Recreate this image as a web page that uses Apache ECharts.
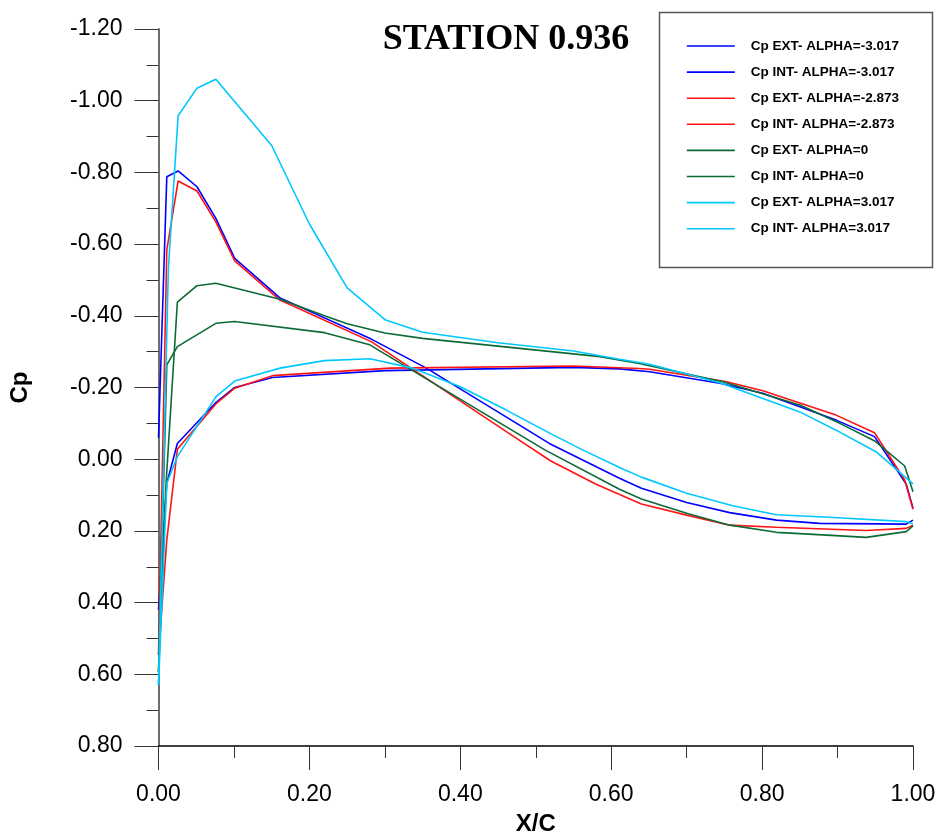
<!DOCTYPE html>
<html>
<head>
<meta charset="utf-8">
<title>STATION 0.936</title>
<script src="https://cdn.jsdelivr.net/npm/echarts@6/dist/echarts.min.js"></script>
<style>
  html, body { margin: 0; padding: 0; background: #ffffff; }
  #chart { width: 940px; height: 837px; }
</style>
</head>
<body>
<div id="chart"></div>
<script>
// Pressure coefficient distributions along the chord, station 0.936
const seriesNames = [
  'Cp EXT- ALPHA=-3.017', 'Cp INT- ALPHA=-3.017',
  'Cp EXT- ALPHA=-2.873', 'Cp INT- ALPHA=-2.873',
  'Cp EXT- ALPHA=0', 'Cp INT- ALPHA=0',
  'Cp EXT- ALPHA=3.017', 'Cp INT- ALPHA=3.017'
];
const seriesColors = ['#0000ff', '#0000ff', '#ff1414', '#ff1414', '#0b6a35', '#0b6a35', '#00c8ff', '#00c8ff'];

// ALPHA = -3.017
const xBlueExt  = [0, 0.011, 0.026, 0.051, 0.076, 0.101, 0.161, 0.282, 0.355, 0.518, 0.611, 0.64, 0.7, 0.757, 0.819, 0.876, 0.991, 1.0];
const cpBlueExt = [-0.06, -0.788, -0.804, -0.76, -0.672, -0.56, -0.45, -0.335, -0.254, -0.044, 0.053, 0.081, 0.121, 0.149, 0.17, 0.179, 0.181, 0.17];
const xBlueInt  = [0, 0.011, 0.025, 0.076, 0.101, 0.151, 0.3, 0.55, 0.611, 0.651, 0.744, 0.801, 0.898, 0.949, 0.991, 1.0];
const cpBlueInt = [0.42, 0.067, -0.044, -0.158, -0.2, -0.228, -0.247, -0.256, -0.252, -0.244, -0.212, -0.184, -0.109, -0.063, 0.069, 0.137];

// ALPHA = -2.873
const xRedExt  = [0, 0.011, 0.026, 0.051, 0.076, 0.101, 0.161, 0.282, 0.461, 0.52, 0.58, 0.64, 0.7, 0.757, 0.819, 0.938, 0.991, 1.0];
const cpRedExt = [0.546, -0.584, -0.776, -0.748, -0.662, -0.553, -0.444, -0.328, -0.077, 0.005, 0.07, 0.125, 0.156, 0.184, 0.19, 0.199, 0.193, 0.184];
const xRedInt  = [0, 0.011, 0.025, 0.076, 0.101, 0.151, 0.307, 0.549, 0.637, 0.651, 0.753, 0.801, 0.898, 0.949, 0.989, 1.0];
const cpRedInt = [0.546, 0.225, -0.028, -0.154, -0.198, -0.233, -0.254, -0.26, -0.253, -0.251, -0.216, -0.191, -0.123, -0.074, 0.058, 0.14];

// ALPHA = 0
const xGreenExt  = [0, 0.0095, 0.025, 0.051, 0.076, 0.161, 0.22, 0.25, 0.3, 0.35, 0.585, 0.637, 0.748, 0.85, 0.903, 0.95, 0.989, 1.0];
const cpGreenExt = [0.594, 0.086, -0.438, -0.484, -0.491, -0.446, -0.4, -0.378, -0.352, -0.337, -0.286, -0.267, -0.216, -0.151, -0.1, -0.05, 0.019, 0.091];
const xGreenInt  = [0, 0.011, 0.025, 0.076, 0.101, 0.22, 0.28, 0.512, 0.611, 0.64, 0.7, 0.757, 0.819, 0.88, 0.938, 0.991, 1.0];
const cpGreenInt = [0.594, -0.263, -0.314, -0.379, -0.384, -0.353, -0.319, -0.026, 0.084, 0.111, 0.151, 0.184, 0.204, 0.211, 0.218, 0.202, 0.186];

// ALPHA = 3.017
const xCyanExt  = [0, 0.013, 0.026, 0.051, 0.076, 0.15, 0.2, 0.25, 0.301, 0.35, 0.45, 0.55, 0.611, 0.651, 0.744, 0.85, 0.898, 0.951, 1.0];
const cpCyanExt = [0.63, -0.528, -0.958, -1.035, -1.06, -0.875, -0.656, -0.478, -0.388, -0.354, -0.325, -0.302, -0.279, -0.265, -0.213, -0.132, -0.081, -0.021, 0.069];
const xCyanInt  = [0, 0.011, 0.025, 0.076, 0.101, 0.161, 0.22, 0.28, 0.337, 0.4, 0.461, 0.519, 0.562, 0.611, 0.64, 0.7, 0.761, 0.819, 0.889, 0.991, 1.0];
const cpCyanInt = [0.63, 0.067, -0.007, -0.174, -0.218, -0.254, -0.275, -0.28, -0.254, -0.202, -0.137, -0.072, -0.026, 0.023, 0.05, 0.095, 0.13, 0.155, 0.162, 0.174, 0.181];

const curveX  = [xBlueExt, xBlueInt, xRedExt, xRedInt, xGreenExt, xGreenInt, xCyanExt, xCyanInt];
const curveCp = [cpBlueExt, cpBlueInt, cpRedExt, cpRedInt, cpGreenExt, cpGreenInt, cpCyanExt, cpCyanInt];

const pairs = (xs, ys) => xs.map((x, i) => [x, ys[i]]);

const chart = echarts.init(document.getElementById('chart'), null, { renderer: 'canvas' });

const fmt2 = v => {
  const s = (Math.round(v * 100) / 100).toFixed(2);
  return s === '-0.00' ? '0.00' : s;
};

chart.setOption({
  backgroundColor: '#ffffff',
  animation: false,
  grid: { left: 158.5, right: 27, top: 29, bottom: 91, containLabel: false, outerBoundsMode: 'none' },
  xAxis: {
    type: 'value', min: 0, max: 1, interval: 0.2,
    name: 'X/C', nameLocation: 'middle', nameGap: 66,
    nameTextStyle: { fontFamily: 'Liberation Sans', fontWeight: 'bold', fontSize: 24, color: '#000' },
    axisLine: { show: true, onZero: false, lineStyle: { color: '#000', width: 1.5 } },
    axisTick: { show: true, inside: false, length: 24, lineStyle: { color: '#333', width: 1 } },
    minorTick: { show: true, splitNumber: 2, length: 12, lineStyle: { color: '#333', width: 1 } },
    splitLine: { show: false },
    axisLabel: { formatter: fmt2, fontFamily: 'Liberation Sans', fontSize: 23, color: '#000', margin: 37 }
  },
  yAxis: {
    type: 'value', inverse: true, min: -1.2, max: 0.8, interval: 0.2,
    name: 'Cp', nameLocation: 'middle', nameGap: 126, nameRotate: 90,
    nameTextStyle: { fontFamily: 'Liberation Sans', fontWeight: 'bold', fontSize: 24, color: '#000' },
    axisLine: { show: true, onZero: false, lineStyle: { color: '#6e6e6e', width: 2 } },
    axisTick: { show: true, inside: false, length: 24, lineStyle: { color: '#333', width: 1 } },
    minorTick: { show: true, splitNumber: 2, length: 12, lineStyle: { color: '#333', width: 1 } },
    splitLine: { show: false },
    axisLabel: { formatter: fmt2, fontFamily: 'Liberation Sans', fontSize: 23, color: '#000', margin: 36 }
  },
  legend: {
    orient: 'vertical', left: 686, top: 39, padding: 0,
    itemWidth: 48, itemHeight: 14, itemGap: 12.1,
    data: seriesNames,
    itemStyle: { opacity: 0 },
    lineStyle: { width: 1.6 },
    textStyle: { fontFamily: 'Liberation Sans', fontWeight: 'bold', fontSize: 13.5, color: '#000', padding: [0, 0, 0, 11] }
  },
  graphic: [
    {
      type: 'rect', left: 657, top: 10, z: 0,
      shape: { width: 273, height: 255 },
      style: { fill: 'none', stroke: '#555', lineWidth: 1.5 }
    },
    {
      type: 'text', x: 506, y: 40, z: 10,
      style: {
        text: 'STATION 0.936', fill: '#000',
        font: 'bold 36px "Liberation Serif", serif',
        textAlign: 'center', textVerticalAlign: 'middle'
      }
    }
  ],
  series: seriesNames.map((name, i) => ({
    name: name,
    type: 'line',
    data: pairs(curveX[i], curveCp[i]),
    showSymbol: false,
    symbol: 'none',
    clip: false,
    color: seriesColors[i],
    lineStyle: { color: seriesColors[i], width: 1.6 }
  }))
});
</script>
</body>
</html>
